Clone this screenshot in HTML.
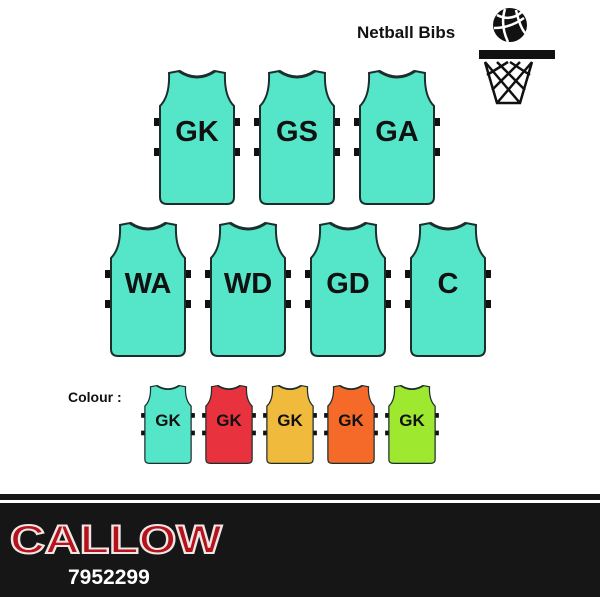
<!DOCTYPE html>
<html><head><style>
body{margin:0;width:600px;height:597px;background:#fff;overflow:hidden;position:relative;font-family:"Liberation Sans",sans-serif}
svg{position:absolute;left:0;top:0}
</style></head><body>
<svg width="600" height="597" viewBox="0 0 600 597">
<defs>
<g id="bib">
<rect x="-3" y="48" width="6" height="8" fill="#111"/><rect x="-3" y="78" width="6" height="8" fill="#111"/>
<rect x="77" y="48" width="6" height="8" fill="#111"/><rect x="77" y="78" width="6" height="8" fill="#111"/>
<path d="M3,127 Q3,134 10,134 L70,134 Q77,134 77,127 L77,36 Q67,26 68,3 L58,1 Q40,13 22,1 L12,3 Q13,26 3,36 Z" stroke="#1d2f2c" stroke-width="2"/>
<path d="M22,1 Q40,13 58,1" fill="none" stroke="#1d2f2c" stroke-width="3"/>
</g>
</defs>
<g fill="#55e6c9">
<g transform="translate(157,70)"><use href="#bib"/></g>
<g transform="translate(257,70)"><use href="#bib"/></g>
<g transform="translate(357,70)"><use href="#bib"/></g>
<g transform="translate(108,222)"><use href="#bib"/></g>
<g transform="translate(208,222)"><use href="#bib"/></g>
<g transform="translate(308,222)"><use href="#bib"/></g>
<g transform="translate(408,222)"><use href="#bib"/></g>
</g>
<g font-weight="bold" font-size="29" text-anchor="middle" fill="#111">
<text x="197" y="141">GK</text><text x="297" y="141">GS</text><text x="397" y="141">GA</text>
<text x="148" y="293">WA</text><text x="248" y="293">WD</text><text x="348" y="293">GD</text><text x="448" y="293">C</text>
</g>
<g>
<g transform="translate(143,385) scale(0.625,0.585)" fill="#55e6c9"><use href="#bib"/></g>
<g transform="translate(204,385) scale(0.625,0.585)" fill="#e8333f"><use href="#bib"/></g>
<g transform="translate(265,385) scale(0.625,0.585)" fill="#f0bb3c"><use href="#bib"/></g>
<g transform="translate(326,385) scale(0.625,0.585)" fill="#f56a28"><use href="#bib"/></g>
<g transform="translate(387,385) scale(0.625,0.585)" fill="#9ee830"><use href="#bib"/></g>
</g>
<g font-weight="bold" font-size="17" text-anchor="middle" fill="#111">
<text x="168" y="426">GK</text><text x="229" y="426">GK</text><text x="290" y="426">GK</text><text x="351" y="426">GK</text><text x="412" y="426">GK</text>
</g>
<text x="68" y="402" font-weight="bold" font-size="14" fill="#111">Colour :</text>
<text x="357" y="38" font-weight="bold" font-size="17" fill="#111">Netball Bibs</text>
<circle cx="510" cy="25" r="17" fill="#111"/>
<path d="M497,15 Q510,22 522,12 M494,28 Q510,28 524,18 M505,9 Q500,25 508,42 M516,10 Q520,28 526,34" stroke="#fff" stroke-width="2.5" fill="none"/>
<rect x="479" y="50" width="76" height="9" fill="#111"/>
<path d="M485,62 L497,103 L520,103 L532,62 M485,62 L520,103 M497,62 L525,90 M510,62 L530,75 M532,62 L497,103 M520,62 L492,90 M508,62 L487,75" stroke="#111" stroke-width="2.5" fill="none"/>
<rect x="0" y="494" width="600" height="103" fill="#161616"/>
<rect x="0" y="500" width="600" height="3" fill="#fff"/>
<text x="10" y="553" font-weight="bold" font-size="40" fill="#b5121b" stroke="#f0e6e6" stroke-width="2" textLength="212" lengthAdjust="spacingAndGlyphs">CALLOW</text>
<text x="68" y="584" font-weight="bold" font-size="21" fill="#fff">7952299</text>
</svg>
</body></html>
